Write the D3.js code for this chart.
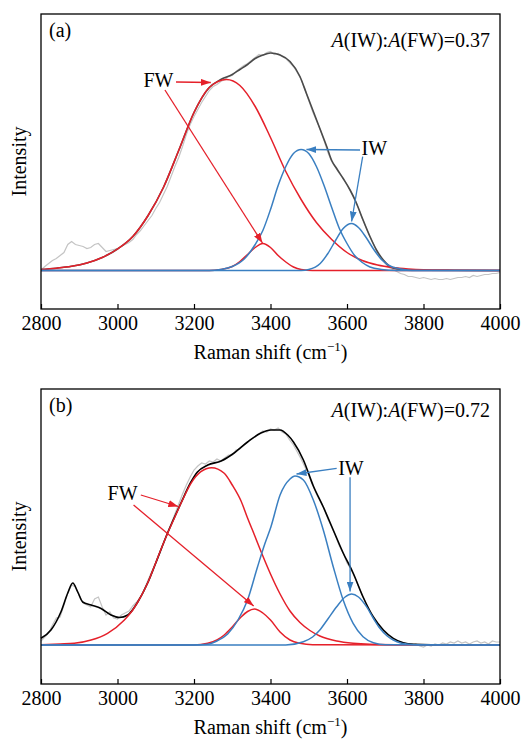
<!DOCTYPE html>
<html>
<head>
<meta charset="utf-8">
<script src="https://cdn.jsdelivr.net/npm/d3@7"></script>
<style>
	body { margin: 0; background: #fff; }
	text { font-family: "Liberation Serif", "Times New Roman", serif; }
</style>
</head>
<body>
<div id="chart"></div>
<script>

// tick values of the wavenumber axis
var wavenumberTicks = [2800, 3000, 3200, 3400, 3600, 3800, 4000];

// raw spectra, one value every 10 cm-1 starting at 2800
var rawStart = 2800, rawStep = 10;

var rawA = [0.5, 4, 7, 10, 12, 15, 18, 26, 29, 26,
	25, 24, 22, 23, 26, 27, 23, 19, 20, 21,
	22, 24, 26, 28, 31, 36, 40, 45, 50, 55,
	62, 68, 76, 84, 94, 104, 113, 124, 136, 146,
	154, 161, 168, 174, 180, 184, 186, 189, 191, 194,
	195, 199, 202, 205, 207, 210, 213, 216, 215, 218,
	219, 216, 217, 214, 212, 208, 204, 198, 191, 181,
	170, 159, 150, 141, 130, 118, 109, 103, 97, 92,
	86, 79, 72, 62, 52, 43, 34, 26, 18, 12,
	7, 3, 1, -1, -3, -4, -6, -6, -7, -8,
	-7, -8, -9, -8, -9, -9, -8, -9, -8, -7,
	-7, -6, -7, -5, -6, -5, -4, -4, -3, -3,
	-2];

var rawB = [4, 8, 12, 20, 27, 28, 40, 52, 60, 58,
	50, 42, 40, 38, 46, 48, 38, 30, 33, 27,
	26, 30, 32, 34, 39, 43, 48, 56, 65, 74,
	82, 92, 102, 112, 121, 131, 141, 151, 160, 168,
	175, 179, 182, 181, 184, 183, 186, 184, 187, 190,
	190, 195, 196, 200, 203, 206, 208, 211, 214, 213,
	216, 215, 217, 213, 211, 205, 200, 193, 186, 178,
	170, 160, 151, 144, 137, 126, 118, 109, 99, 92,
	82, 76, 68, 59, 50, 41, 33, 26, 20, 15,
	12, 8, 6, 4, 3, 2, 1, 0, 1, -1,
	-2, 0, -1, 1, 0, 2, 1, 3, 2, 4,
	2, 3, 1, 3, 4, 2, 3, 1, 4, 3,
	3];

// fitted envelope, [wavenumber, intensity]
var fitA = [[2800, 1], [2840, 2.3], [2880, 4.2], [2920, 7.5], [2960, 13], [3000, 21.5],
	[3040, 34], [3080, 55], [3120, 83], [3160, 120], [3200, 158], [3240, 183],
	[3270, 191], [3300, 196], [3320, 201], [3340, 206], [3360, 212], [3380, 215.5],
	[3400, 217.5], [3425, 215.5], [3451, 209], [3477, 194], [3494, 177], [3512, 159],
	[3529, 142], [3547, 124], [3560, 110], [3573, 102], [3590, 92], [3608, 80.5],
	[3625, 67], [3642, 50.5], [3660, 34], [3677, 20.5], [3695, 10.5], [3712, 4],
	[3730, 1.5], [3760, 0.5], [3800, 0.2], [4000, 0]];

var fitB = [[2800, 6.7], [2826, 15], [2852, 33], [2870, 52], [2883, 62], [2896, 53],
	[2909, 43], [2931, 40], [2957, 36.5], [2983, 30], [3005, 27.5], [3027, 30],
	[3053, 43], [3080, 63], [3100, 82], [3131, 112], [3166, 142], [3192, 163],
	[3209, 173], [3236, 180], [3271, 184], [3305, 192], [3340, 203], [3375, 212],
	[3401, 215], [3425, 215], [3445, 210], [3460, 203], [3486, 185], [3512, 159],
	[3538, 138], [3564, 115], [3590, 92], [3616, 72], [3642, 48], [3669, 28],
	[3695, 15], [3721, 6.7], [3747, 2.3], [3775, 0.7], [3820, 0.2], [4000, 0]];

// fitted components of (a)
var fw1A = [[2800, 1], [2840, 2.3], [2880, 4.2], [2920, 7.5], [2960, 13], [3000, 21.5],
	[3040, 34], [3080, 55], [3120, 83], [3160, 120], [3200, 158], [3240, 183],
	[3285, 191], [3320, 185], [3360, 164], [3400, 133], [3440, 99], [3480, 71],
	[3520, 48], [3560, 31], [3600, 18], [3640, 10], [3680, 5.5], [3720, 3],
	[3760, 1.6], [3800, 0.8], [3880, 0.3], [4000, 0]];

var fw2A = [[2800, 0], [3240, 0], [3270, 1], [3300, 4], [3320, 9], [3340, 16],
	[3360, 23], [3380, 27], [3400, 23], [3420, 15], [3440, 8.5], [3460, 3.5],
	[3480, 1], [3510, 0], [4000, 0]];

var iw1A = [[2800, 0], [3240, 0], [3270, 1], [3300, 4], [3330, 11], [3360, 26],
	[3380, 40], [3400, 61], [3420, 85], [3440, 104], [3460, 117], [3480, 121],
	[3500, 117], [3520, 104], [3540, 85], [3560, 63], [3580, 42], [3600, 27],
	[3620, 15], [3640, 8], [3660, 3.5], [3690, 1], [3730, 0], [4000, 0]];

var iw2A = [[2800, 0], [3480, 0], [3500, 1], [3530, 7], [3550, 17], [3570, 30],
	[3590, 42], [3612, 47], [3630, 43], [3650, 33], [3670, 21], [3690, 11],
	[3710, 5], [3740, 1.5], [3770, 0], [4000, 0]];

// fitted components of (b)
var fw1B = [[2800, 0.3], [2850, 1], [2887, 1.7], [2931, 5], [2974, 11.7], [3018, 25],
	[3040, 35], [3061, 48.3], [3080, 63], [3096, 78.3], [3113, 95], [3131, 111.7],
	[3150, 128], [3166, 141.7], [3192, 161.7], [3218, 173.3], [3246, 177.3],
	[3279, 171.7], [3300, 160], [3323, 144], [3340, 127], [3358, 110], [3380, 89],
	[3400, 71], [3425, 51], [3451, 34], [3477, 22.5], [3503, 14.5], [3529, 9],
	[3573, 4], [3616, 1.7], [3660, 0.7], [3750, 0.2], [4000, 0]];

var fw2B = [[2800, 0], [3200, 0], [3236, 1.7], [3260, 5], [3279, 10], [3300, 18],
	[3323, 28], [3340, 33.5], [3358, 36], [3380, 32], [3400, 25], [3425, 13],
	[3451, 5], [3477, 1.7], [3510, 0.3], [4000, 0]];

var iw1B = [[2800, 0], [3200, 0], [3236, 0.7], [3260, 4], [3288, 11], [3315, 25],
	[3340, 45], [3366, 78], [3385, 101], [3401, 118], [3425, 150], [3451, 166],
	[3464, 169], [3486, 165], [3512, 145], [3538, 115], [3564, 78.3], [3590, 45],
	[3616, 21.7], [3642, 8.3], [3669, 2.3], [3700, 0.3], [4000, 0]];

var iw2B = [[2800, 0], [3440, 0], [3486, 3.3], [3510, 8], [3529, 15], [3550, 26],
	[3573, 38.3], [3595, 48], [3612, 51], [3630, 48], [3651, 38.3], [3670, 26],
	[3686, 16.7], [3705, 9], [3721, 5], [3740, 2], [3756, 1], [3790, 0], [4000, 0]];

// peak area ratios
var ratioA = "0.37", ratioB = "0.72";

// colours
var red = "#e5202a", blue = "#3a7fc1", gray = "#c4c4c4";

var svg = d3.select("#chart").append("svg")
	.attr("width", 523)
	.attr("height", 740);

// arrow heads
var defs = svg.append("defs");
[["arrowRed", red], ["arrowBlue", blue]].forEach(function(m){

	defs.append("marker")
		.attr("id", m[0])
		.attr("markerUnits", "userSpaceOnUse")
		.attr("viewBox", "0 0 10 7")
		.attr("refX", 10)
		.attr("refY", 3.5)
		.attr("markerWidth", 10)
		.attr("markerHeight", 7)
		.attr("orient", "auto")
		.append("path")
		.attr("d", "M0,0 L10,3.5 L0,7 Z")
		.attr("fill", m[1]);
});

var pwidth = 459, pheight = 295;

// draws one panel
function drawPanel(p){

	var g = svg.append("g")
		.attr("transform", "translate(41," + p.top + ")");

	var x = d3.scaleLinear().domain([2800, 4000]).range([0, pwidth]),
		y = d3.scaleLinear().domain(p.ydomain).range([pheight, 0]);

	var smooth = d3.line()
		.x(function(d){ return x(d[0]); })
		.y(function(d){ return y(d[1]); })
		.curve(d3.curveMonotoneX);

	var rough = d3.line()
		.x(function(d){ return x(d[0]); })
		.y(function(d){ return y(d[1]); });

	var raw = p.raw.map(function(v, i){

		return [rawStart + i * rawStep, v];
	});

	// raw spectrum
	g.append("path")
		.attr("d", rough(raw))
		.attr("fill", "none")
		.attr("stroke", gray)
		.attr("stroke-width", 1.2);

	// envelope
	g.append("path")
		.attr("d", smooth(p.fit))
		.attr("fill", "none")
		.attr("stroke", p.fitColor)
		.attr("stroke-width", 1.6);

	// components
	[[p.fw1, red], [p.fw2, red], [p.iw1, blue], [p.iw2, blue]].forEach(function(c){

		g.append("path")
			.attr("d", smooth(c[0]))
			.attr("fill", "none")
			.attr("stroke", c[1])
			.attr("stroke-width", 1.5);
	});

	// frame
	g.append("rect")
		.attr("width", pwidth)
		.attr("height", pheight)
		.attr("fill", "none")
		.attr("stroke", "#000")
		.attr("stroke-width", 1.3);

	// x axis with inward ticks
	var axis = g.append("g")
		.attr("transform", "translate(0," + pheight + ")")
		.call(d3.axisBottom(x).tickValues(wavenumberTicks).tickFormat(d3.format("d"))
			.tickSizeInner(-5).tickSizeOuter(0).tickPadding(7));
	axis.select(".domain").remove();
	axis.selectAll("line").attr("stroke", "#000").attr("stroke-width", 1.2);
	axis.selectAll("text")
		.attr("font-family", "Liberation Serif, Times New Roman, serif")
		.attr("font-size", 20)
		.attr("fill", "#000");

	// axis titles
	var title = g.append("text")
		.attr("x", pwidth / 2)
		.attr("y", p.titleY)
		.attr("text-anchor", "middle")
		.attr("font-size", 20);
	title.append("tspan").text("Raman shift (cm");
	title.append("tspan").attr("font-size", 13).attr("dy", -8).text("\u22121");
	title.append("tspan").attr("dy", 8).text(")");

	g.append("text")
		.attr("transform", "translate(-15," + (pheight / 2) + ") rotate(-90)")
		.attr("text-anchor", "middle")
		.attr("font-size", 20)
		.text("Intensity");

	// panel letter
	g.append("text")
		.attr("x", 8)
		.attr("y", 23)
		.attr("font-size", 20)
		.text(p.letter);

	// ratio label
	var ratio = g.append("text")
		.attr("x", 449)
		.attr("y", p.ratioY)
		.attr("text-anchor", "end")
		.attr("font-size", 20);
	ratio.append("tspan").attr("font-style", "italic").text("A");
	ratio.append("tspan").text("(IW):");
	ratio.append("tspan").attr("font-style", "italic").text("A");
	ratio.append("tspan").text("(FW)=" + p.ratio);

	// labels and arrows, placed in data units
	p.labels.forEach(function(l){

		g.append("text")
			.attr("x", x(l[1]))
			.attr("y", y(l[2]))
			.attr("font-size", 20)
			.text(l[0]);
	});

	p.arrows.forEach(function(a){

		g.append("line")
			.attr("x1", x(a[0]))
			.attr("y1", y(a[1]))
			.attr("x2", x(a[2]))
			.attr("y2", y(a[3]))
			.attr("stroke", a[4] == "r" ? red : blue)
			.attr("stroke-width", 1.3)
			.attr("marker-end", a[4] == "r" ? "url(#arrowRed)" : "url(#arrowBlue)");
	});
}

drawPanel({
	top: 14, ydomain: [-38.5, 256.5], raw: rawA, fit: fitA, fitColor: "#4a4a4a",
	fw1: fw1A, fw2: fw2A, iw1: iw1A, iw2: iw2A,
	letter: "(a)", ratio: ratioA, ratioY: 33, titleY: 345,
	labels: [["FW", 3068, 184], ["IW", 3638, 115.5]],
	arrows: [[3153, 188.5, 3244, 188, "r"], [3124, 180.5, 3379, 27.5, "r"],
		[3634, 120.5, 3494, 121, "b"], [3641, 113.8, 3612, 49, "b"]]
});

drawPanel({
	top: 389, ydomain: [-39, 256], raw: rawB, fit: fitB, fitColor: "#000",
	fw1: fw1B, fw2: fw2B, iw1: iw1B, iw2: iw2B,
	letter: "(b)", ratio: ratioB, ratioY: 28, titleY: 345,
	labels: [["FW", 2974, 145], ["IW", 3577, 170]],
	arrows: [[3061, 150, 3159, 138.5, "r"], [3042, 140, 3356, 39, "r"],
		[3573, 176.7, 3468, 171, "b"], [3608, 167.7, 3608, 53.5, "b"]]
});

</script>
</body>
</html>
